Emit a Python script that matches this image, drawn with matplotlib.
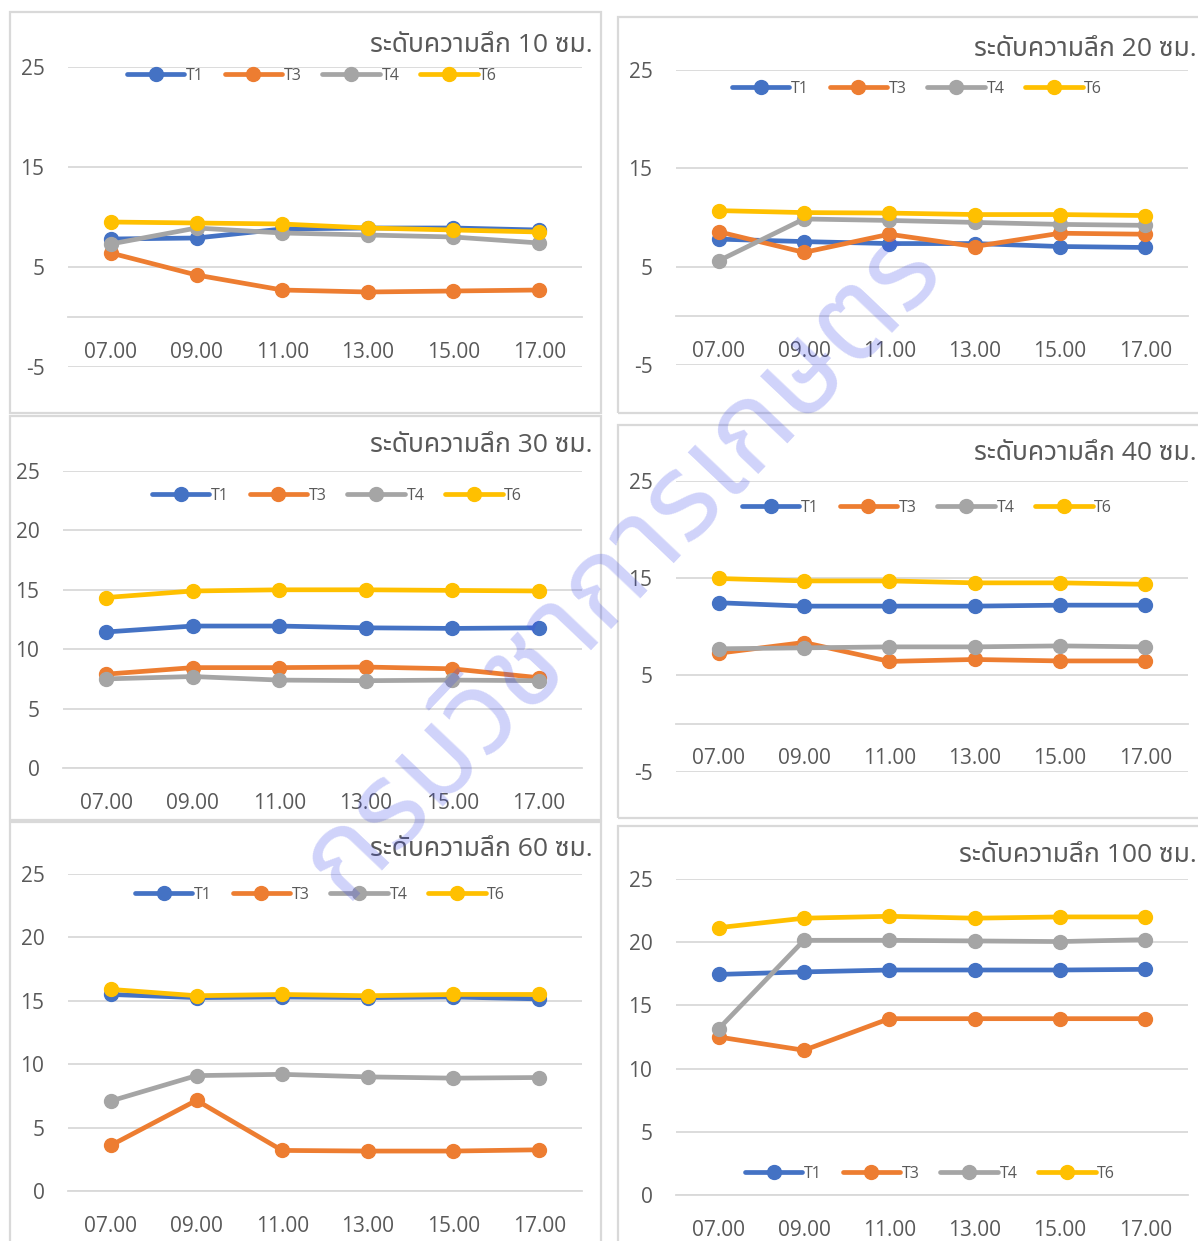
import matplotlib
matplotlib.use("Agg")
import matplotlib.pyplot as plt
from matplotlib import font_manager
from matplotlib.ft2font import FT2Font
from matplotlib.patches import Rectangle

# ---------------- data ----------------
times = ["07.00", "09.00", "11.00", "13.00", "15.00", "17.00"]
series_names = ["T1", "T3", "T4", "T6"]

titles = ["ระดับความลึก 10 ซม.", "ระดับความลึก 20 ซม.", "ระดับความลึก 30 ซม.",
          "ระดับความลึก 40 ซม.", "ระดับความลึก 60 ซม.", "ระดับความลึก 100 ซม."]

d10_T1 = [7.8, 7.9, 8.8, 8.9, 8.9, 8.7]
d10_T3 = [6.4, 4.2, 2.7, 2.5, 2.6, 2.7]
d10_T4 = [7.3, 8.9, 8.4, 8.2, 8.0, 7.4]
d10_T6 = [9.5, 9.4, 9.3, 8.9, 8.7, 8.5]

d20_T1 = [7.8, 7.55, 7.35, 7.35, 7.05, 6.95]
d20_T3 = [8.55, 6.45, 8.3, 7.05, 8.4, 8.3]
d20_T4 = [5.6, 9.85, 9.7, 9.5, 9.3, 9.2]
d20_T6 = [10.7, 10.5, 10.45, 10.3, 10.3, 10.2]

d30_T1 = [11.45, 11.95, 11.95, 11.8, 11.75, 11.8]
d30_T3 = [7.9, 8.45, 8.45, 8.5, 8.35, 7.6]
d30_T4 = [7.5, 7.7, 7.4, 7.35, 7.4, 7.35]
d30_T6 = [14.35, 14.9, 15.0, 15.0, 14.95, 14.9]

d40_T1 = [12.45, 12.1, 12.1, 12.1, 12.2, 12.2]
d40_T3 = [7.25, 8.35, 6.4, 6.6, 6.45, 6.45]
d40_T4 = [7.7, 7.8, 7.9, 7.9, 8.0, 7.9]
d40_T6 = [14.95, 14.7, 14.7, 14.5, 14.5, 14.35]

d60_T1 = [15.5, 15.25, 15.3, 15.25, 15.3, 15.15]
d60_T3 = [3.6, 7.15, 3.2, 3.15, 3.15, 3.25]
d60_T4 = [7.1, 9.1, 9.2, 9.0, 8.9, 8.95]
d60_T6 = [15.9, 15.4, 15.5, 15.4, 15.5, 15.5]

d100_T1 = [17.45, 17.65, 17.8, 17.8, 17.8, 17.85]
d100_T3 = [12.5, 11.45, 13.95, 13.95, 13.95, 13.95]
d100_T4 = [13.15, 20.15, 20.15, 20.1, 20.05, 20.2]
d100_T6 = [21.15, 21.9, 22.05, 21.9, 22.0, 22.0]

panel_data = [
    [d10_T1, d10_T3, d10_T4, d10_T6],
    [d20_T1, d20_T3, d20_T4, d20_T6],
    [d30_T1, d30_T3, d30_T4, d30_T6],
    [d40_T1, d40_T3, d40_T4, d40_T6],
    [d60_T1, d60_T3, d60_T4, d60_T6],
    [d100_T1, d100_T3, d100_T4, d100_T6],
]

yticks_a = [-5, 5, 15, 25]
yticks_b = [0, 5, 10, 15, 20, 25]
panel_yticks = [yticks_a, yticks_a, yticks_b, yticks_a, yticks_b, yticks_b]

watermark = "กรมวิชาการเกษตร"

# ---------------- fonts ----------------
def thai_fonts():
    found = []
    for f in font_manager.fontManager.ttflist:
        try:
            ft = FT2Font(f.fname)
            if ft.get_char_index(0x0E01) and ft.get_char_index(0x0E25) and ft.get_char_index(0x0E39):
                if f.name not in found:
                    found.append(f.name)
        except Exception:
            pass
    return found

tf = thai_fonts()
thai = tf[0] if tf else "DejaVu Sans"
for pref in ["Noto Sans Thai", "Noto Sans Thai UI", "Noto Looped Thai", "Sarabun", "Loma", "Garuda", "Kinnari"]:
    if pref in tf:
        thai = pref
        break

plt.rcParams["axes.unicode_minus"] = False
num_font = ["Open Sans", "DejaVu Sans"]
title_font = ["Open Sans", thai, "DejaVu Sans"]

# ---------------- figure ----------------
W, H = 1198, 1241
fig = plt.figure(figsize=(W / 100, H / 100), dpi=100)
fig.patch.set_facecolor("white")

colors = ["#4472C4", "#ED7D31", "#A5A5A5", "#FFC000"]
txt = "#595959"
gridc = "#D9D9D9"

def fx(x):
    return x / W

def fy(y):
    return 1 - y / H

# panel borders (px): left, top, right, bottom
borders = [(10, 12, 601, 413), (618, 17, 1210, 413),
           (10, 416, 601, 820), (618, 425, 1210, 818),
           (10, 822, 601, 1250), (618, 826, 1210, 1250)]
# plot areas (px): left, right, y of top tick, y of bottom limit
areas = [(68, 582, 67, 367), (676, 1188, 70, 365),
         (63, 582, 471, 768), (676, 1188, 481, 772),
         (68, 582, 874, 1191), (676, 1188, 879, 1195)]
title_pos = [(593, 45), (1197, 49), (593, 445), (1197, 453), (593, 850), (1197, 855)]
legend_pos = [(312, 76), (917, 89), (337, 496), (927, 508), (320, 895), (930, 1174)]

for (l, t, r, b) in borders:
    fig.add_artist(Rectangle((fx(l), fy(b)), fx(r) - fx(l), fy(t) - fy(b),
                             transform=fig.transFigure, fill=False,
                             edgecolor=gridc, lw=1.6, zorder=0))

for i in range(6):
    l, r, yt, yb = areas[i]
    ax = fig.add_axes([fx(l), fy(yb), fx(r) - fx(l), fy(yt) - fy(yb)])
    ax.set_facecolor("none")
    yt_list = panel_yticks[i]
    ax.set_ylim(yt_list[0], yt_list[-1])
    ax.set_xlim(-0.5, len(times) - 0.5)
    ax.set_yticks(yt_list)
    ax.set_xticks(range(len(times)))
    ax.set_xticklabels(times)
    ax.grid(axis="y", color=gridc, lw=1.3)
    ax.set_axisbelow(True)
    for s in ["top", "right", "left"]:
        ax.spines[s].set_visible(False)
    ax.spines["bottom"].set_position(("data", 0))
    ax.spines["bottom"].set_color(gridc)
    ax.spines["bottom"].set_linewidth(1.3)
    ax.tick_params(axis="both", length=0, colors=txt, labelsize=15)
    ax.tick_params(axis="x", pad=18)
    ax.tick_params(axis="y", pad=17)
    for lab in ax.get_xticklabels() + ax.get_yticklabels():
        lab.set_family(num_font)
    handles = []
    for k, name in enumerate(series_names):
        h, = ax.plot(range(len(times)), panel_data[i][k], color=colors[k], lw=3.4,
                     marker="o", ms=10, label=name, solid_capstyle="round", clip_on=False)
        handles.append(h)
    lx, ly = legend_pos[i]
    leg = ax.legend(handles=handles, loc="center", bbox_to_anchor=(fx(lx), fy(ly)),
                    bbox_transform=fig.transFigure, ncol=4, frameon=False,
                    handlelength=3.6, handletextpad=0.1, columnspacing=1.3,
                    prop={"family": num_font, "size": 11.5}, borderaxespad=0)
    for t_ in leg.get_texts():
        t_.set_color(txt)
    tx, ty = title_pos[i]
    fig.text(fx(tx), fy(ty), titles[i], ha="right", va="center", fontsize=19,
             color=txt, family=title_font)

fig.text(fx(622), fy(565), watermark, rotation=46.5, ha="center", va="center",
         fontsize=86, color="#3A46EA", alpha=0.24, family=[thai, "DejaVu Sans"],
         fontweight="bold", zorder=50)

fig.savefig("out.png", dpi=100, facecolor="white")
